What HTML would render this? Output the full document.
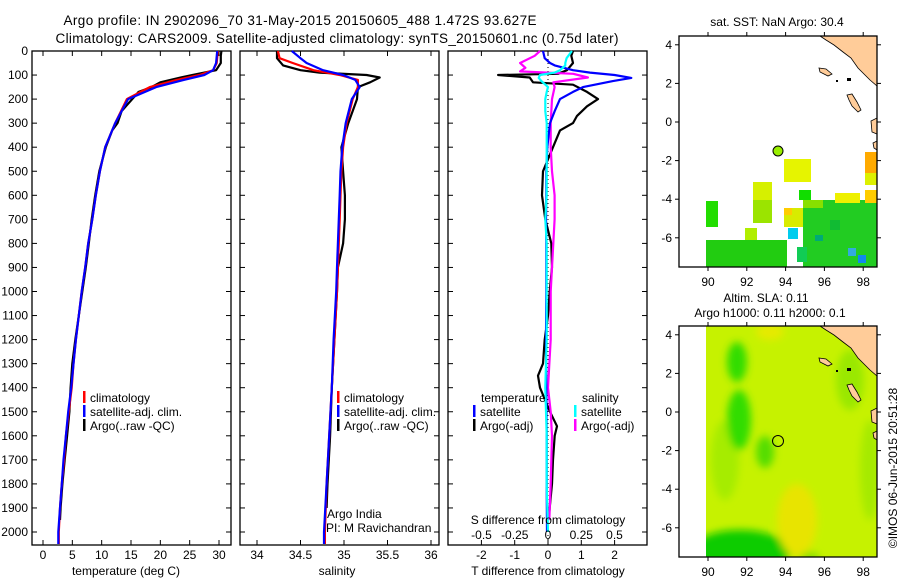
<!DOCTYPE html>
<html><head><meta charset="utf-8">
<style>
html,body{margin:0;padding:0;background:#fff;}
svg{display:block;font-family:"Liberation Sans",sans-serif;}
text{fill:#000;}
</style></head>
<body>
<svg id="fig" width="900" height="580" viewBox="0 0 900 580" xmlns="http://www.w3.org/2000/svg">
<defs>
<filter id="blur" x="-50%" y="-50%" width="200%" height="200%"><feGaussianBlur stdDeviation="4"/></filter>
<clipPath id="clipB"><rect x="706" y="326" width="171" height="231"/></clipPath>
</defs>
<text x="300" y="25" font-size="13.5" text-anchor="middle" textLength="473">Argo profile: IN 2902096_70 31-May-2015 20150605_488 1.472S 93.627E</text>
<text x="337" y="43" font-size="13.5" text-anchor="middle" textLength="563">Climatology: CARS2009. Satellite-adjusted climatology: synTS_20150601.nc (0.75d later)</text>
<g id="g1"></g>
<g id="g2"></g>
<g id="g3"></g>
<g id="m1"></g>
<g id="m2"></g>
<text transform="translate(897,468) rotate(-90)" font-size="12" text-anchor="middle">©IMOS 06-Jun-2015 20:51:28</text>
</svg>
<script>
// ---- data ----
const tDepth = [0,50,80,100,120,150,200,300,400,500,600,700,800,900,1000,1100,1200,1300,1400,1500,1600,1700,1800,1900,2000,2050];
const tClim  = [29.8,29.6,29,26.7,22.8,18.2,14.3,12.3,10.6,9.7,9.0,8.4,7.7,7.2,6.6,6.1,5.6,5.2,4.9,4.4,3.9,3.6,3.2,2.9,2.7,2.7];
const tSat   = [29.7,29.5,29,27.5,24,19.3,14.5,12.3,10.6,9.7,9.0,8.4,7.7,7.2,6.6,6.1,5.6,5.2,4.8,4.3,3.9,3.5,3.2,2.9,2.6,2.6];
const aDepth = [0,20,50,80,100,110,130,150,170,200,250,300,330,400,500,600,700,800,900,1000,1100,1200,1300,1400,1500,1600,1700,1800,1900,1950];
const tArgo  = [30.4,30.3,30.3,29.5,25.5,23.5,20,18.5,16.3,15.2,13.4,12.7,11.8,10.7,9.6,8.9,8.3,7.8,7.3,6.7,6.1,5.5,5.0,4.7,4.5,4.1,3.7,3.3,3.0,2.9];
const sDepth = [0,30,50,80,100,120,150,200,300,400,500,600,700,800,900,1000,1200,1400,1600,1800,2000,2050];
const sClim  = [34.24,34.26,34.41,34.65,34.95,35.16,35.16,35.1,35.03,34.99,34.97,34.96,34.95,34.94,34.93,34.92,34.89,34.86,34.83,34.8,34.78,34.78];
const sSat   = [34.4,34.5,34.57,34.76,34.99,35.13,35.18,35.09,35.02,34.98,34.96,34.95,34.94,34.93,34.92,34.91,34.88,34.86,34.83,34.8,34.77,34.77];
const sArgoDepth = [0,30,60,80,90,100,110,130,150,200,300,400,500,600,700,800,900,1000,1200,1400,1600,1800,1900];
const sArgo  = [34.23,34.23,34.3,34.5,34.72,35.26,35.41,35.3,35.16,35.15,35.05,34.97,34.99,35.01,35.01,34.99,34.93,34.92,34.89,34.86,34.84,34.81,34.8];
const dDepth = [0,20,50,80,95,100,110,130,140,170,200,230,270,300,330,400,500,600,700,800,900,1000,1100,1200,1300,1350,1400,1500,1560,1600,1700,1800,1900,1950];
const dTArgo = [0.75,0.7,0.75,0.57,0.3,-1.5,-0.55,-0.45,0.75,1.17,1.5,1.17,0.87,0.75,0.36,0.15,-0.15,-0.18,-0.08,0.1,0.12,0.05,0,-0.1,-0.15,-0.3,-0.24,0.06,0.27,0.2,0.15,0.12,0.05,0.02];
const dsDepth = [0,30,50,60,80,90,100,112,125,150,170,200,250,300,400,500,600,700,800,1000,1200,1400,1600,1800,2000];
const dTSat  = [-0.15,-0.1,0.06,0.2,0.75,1.26,2.0,2.5,1.95,1.05,0.75,0.36,0.2,0.06,-0.02,-0.05,-0.05,-0.06,-0.05,-0.05,-0.06,-0.05,-0.04,-0.04,-0.03];
const dSSat  = [0.18,0.14,0.13,0.13,0.09,0.05,-0.06,-0.07,-0.05,0,-0.01,-0.02,-0.02,-0.01,-0.01,-0.01,-0.01,-0.02,-0.01,-0.01,-0.01,-0.02,-0.01,-0.01,0];
const dmDepth = [0,20,50,70,85,95,110,130,150,200,300,400,500,600,700,800,1000,1200,1400,1500,1600,1800,1950];
const dSArgo = [-0.06,-0.1,-0.21,-0.17,-0.21,0.19,0.3,0.04,0.05,0.03,0.02,0.02,0.03,0.05,0.05,0.04,0.02,0.02,0.0,0.02,0.03,0.02,0.01];
const depthTicks = [0,100,200,300,400,500,600,700,800,900,1000,1100,1200,1300,1400,1500,1600,1700,1800,1900,2000];
const tempTicks = [0,5,10,15,20,25,30];
const salTicks = [34,34.5,35,35.5,36];
const dTTicks = [-2,-1,0,1,2];
const dSTicks = [-0.5,-0.25,0,0.25,0.5];
const lonTicks = [90,92,94,96,98];
const latTicks = [4,2,0,-2,-4,-6];

const NS='http://www.w3.org/2000/svg';
function mk(tag,attrs,parent,txt){const e=document.createElementNS(NS,tag);for(const k in attrs)e.setAttribute(k,attrs[k]);if(txt!==undefined)e.textContent=txt;parent.appendChild(e);return e;}
const yD = d => 51 + d*0.2405;
const xT = t => 43 + t*5.867;
const xS = s => 257 + (s-34)*87;
const xDT = v => 548 + v*33.3;
const xDS = v => 548 + v*133;
const TOP=51, BOT=545;

function frame(g,x0,x1){
  const r=mk('rect',{x:x0,y:TOP,width:x1-x0,height:BOT-TOP,fill:'none',stroke:'#000','stroke-width':1.3},g);
  
  
  depthTicks.forEach(d=>{
    mk('line',{x1:x0,x2:x0+5,y1:yD(d),y2:yD(d),stroke:'#000'},g);
    mk('line',{x1:x1,x2:x1-5,y1:yD(d),y2:yD(d),stroke:'#000'},g);
  });
}
function xticks(g,vals,fx,labels,ly){
  vals.forEach((v,i)=>{
    const x=fx(v);
    mk('line',{x1:x,x2:x,y1:TOP,y2:TOP+5,stroke:'#000'},g);
    mk('line',{x1:x,x2:x,y1:BOT,y2:BOT-5,stroke:'#000'},g);
    const t=mk('text',{x:x,y:ly,'font-size':12,'text-anchor':'middle'},g,labels?labels[i]:String(v));
    
    
  });
}
function line(g,xs,ds,fx,color,name){
  let p='';xs.forEach((v,i)=>{p+=(i?'L':'M')+fx(v).toFixed(1)+','+yD(ds[i]).toFixed(1);});
  const e=mk('path',{d:p,fill:'none',stroke:color,'stroke-width':2.2,'stroke-linejoin':'round'},g);
  
  
}
function legend(g,x,y,color,label){
  mk('rect',{x:x-1,y:y-7,width:2.5,height:12,fill:color},g);
  const t=mk('text',{x:x+6,y:y+4,'font-size':12},g,label);
  
  
}

// Panel 1
const g1=document.getElementById('g1');
frame(g1,32,231);
depthTicks.forEach(d=>{
  const t=mk('text',{x:28,y:yD(d)+4,'font-size':12,'text-anchor':'end'},g1,String(d));
  
  
});
xticks(g1,tempTicks,xT,null,559);
const ttl1=mk('text',{x:126,y:575,'font-size':12,'text-anchor':'middle'},g1,'temperature (deg C)');


line(g1,tArgo,aDepth,xT,'#000','temp-argo-line');
line(g1,tClim,tDepth,xT,'#f00','temp-climatology-line');
line(g1,tSat,tDepth,xT,'#00f','temp-satellite-line');
legend(g1,84,398,'#f00','climatology');
legend(g1,84,412,'#00f','satellite-adj. clim.');
legend(g1,84,426,'#000','Argo(..raw -QC)');

// Panel 2
const g2=document.getElementById('g2');
frame(g2,240,439);
xticks(g2,salTicks,xS,['34','34.5','35','35.5','36'],559);
const ttl2=mk('text',{x:337,y:575,'font-size':12,'text-anchor':'middle'},g2,'salinity');


line(g2,sArgo,sArgoDepth,xS,'#000','sal-argo-line');
line(g2,sClim,sDepth,xS,'#f00','sal-climatology-line');
line(g2,sSat,sDepth,xS,'#00f','sal-satellite-line');
legend(g2,338,398,'#f00','climatology');
legend(g2,338,412,'#00f','satellite-adj. clim.');
legend(g2,338,426,'#000','Argo(..raw -QC)');
const ai=mk('text',{x:327,y:518,'font-size':12},g2,'Argo India');


const pi=mk('text',{x:326,y:532,'font-size':12},g2,'PI: M Ravichandran');



// Panel 3
const g3=document.getElementById('g3');
frame(g3,448,647);
xticks(g3,dTTicks,xDT,['-2','-1','0','1','2'],559);
mk('line',{x1:548,x2:548,y1:TOP,y2:BOT,stroke:'#000','stroke-dasharray':'1,3'},g3);
const ttl3=mk('text',{x:548,y:575,'font-size':12,'text-anchor':'middle'},g3,'T difference from climatology');


line(g3,dTArgo,dDepth,xDT,'#000','t-diff-argo-line');
line(g3,dSArgo,dmDepth,xDS,'#f0f','s-diff-argo-line');
line(g3,dTSat,dsDepth,xDT,'#00f','t-diff-satellite-line');
line(g3,dSSat,dsDepth,xDS,'#0ff','s-diff-satellite-line');
const st=mk('text',{x:548,y:524,'font-size':12,'text-anchor':'middle'},g3,'S difference from climatology');


dSTicks.forEach(v=>{
  const t=mk('text',{x:xDS(v),y:539,'font-size':12,'text-anchor':'middle'},g3,String(v));
  
  
});
let lt=mk('text',{x:481,y:402,'font-size':12},g3,'temperature');


lt=mk('text',{x:582,y:402,'font-size':12},g3,'salinity');


legend(g3,474,412,'#00f','satellite');
legend(g3,474,426,'#000','Argo(-adj)');
legend(g3,575,412,'#0ff','satellite');
legend(g3,575,426,'#f0f','Argo(-adj)');

// Maps
const lonX = lon => 708 + (lon-90)*19.4;
function mapAxes(g,y0){
  const latY = lat => y0+86 - lat*19.3;
  const r=mk('rect',{x:679,y:y0,width:198,height:231,fill:'none',stroke:'#000','stroke-width':1.3},g);
  
  
  lonTicks.forEach(l=>{
    const x=lonX(l);
    mk('line',{x1:x,x2:x,y1:y0,y2:y0-4,stroke:'#000'},g);
    mk('line',{x1:x,x2:x,y1:y0+231,y2:y0+235,stroke:'#000'},g);
    const t=mk('text',{x:x,y:y0+250,'font-size':12,'text-anchor':'middle'},g,String(l));
    
    
  });
  latTicks.forEach(l=>{
    const y=latY(l);
    mk('line',{x1:679,x2:675,y1:y,y2:y,stroke:'#000'},g);
    mk('line',{x1:877,x2:881,y1:y,y2:y,stroke:'#000'},g);
    const t=mk('text',{x:672,y:y+4,'font-size':12,'text-anchor':'end'},g,String(l));
    
    
  });
}
function land(g,dy){
  const p=mk('path',{d:`M820,${36+dy} L877,${36+dy} L877,${86+dy} L870,${80+dy} L866,${76+dy} L858,${68+dy} L851,${58+dy} L843,${52+dy} L834,${45+dy} L826,${40+dy} Z`,fill:'#ffcc99',stroke:'#000','stroke-width':0.8},g);
  
  
  mk('path',{d:`M819,${68+dy} L826,${69+dy} L832,${74+dy} L828,${76+dy} L820,${72+dy} Z`,fill:'#ffcc99',stroke:'#000','stroke-width':0.8},g);
  mk('path',{d:`M847,${95+dy} L852,${94+dy} L857,${102+dy} L861,${110+dy} L858,${112+dy} L852,${106+dy} L849,${100+dy} Z`,fill:'#ffcc99',stroke:'#000','stroke-width':0.8},g);
  mk('path',{d:`M871,${121+dy} L877,${118+dy} L877,${134+dy} L872,${132+dy} Z`,fill:'#ffcc99',stroke:'#000','stroke-width':0.8},g);
  mk('path',{d:`M873,${143+dy} L877,${141+dy} L877,${150+dy} L874,${148+dy} Z`,fill:'#ffcc99',stroke:'#000','stroke-width':0.8},g);
  mk('rect',{x:847,y:78+dy,width:4,height:3,fill:'#000'},g);
  mk('rect',{x:836,y:80+dy,width:2,height:2,fill:'#000'},g);
}
const m1=document.getElementById('m1');
let mt=mk('text',{x:777,y:26,'font-size':12,'text-anchor':'middle'},m1,'sat. SST: NaN Argo: 30.4');


const sstBlocks=[
 [784,159,27,23,'#e6f400'],[753,182,19,18,'#d6f000'],[753,200,19,23,'#9be400'],[706,201,12,26,'#22dd00'],
 [745,228,12,15,'#b0ee00'],[706,240,81,27,'#22cc11'],[784,208,23,19,'#d8ec00'],[784,208,8,7,'#ffcc00'],
 [788,228,10,11,'#00ccee'],[799,190,12,10,'#11dd00'],[803,200,74,67,'#22cc22'],[835,193,25,10,'#eef000'],
 [865,152,12,21,'#ffaa00'],[865,173,12,12,'#ddf000'],[865,190,12,13,'#ffcc00'],[803,200,20,8,'#88e000'],
 [815,235,8,6,'#00aa77'],[848,248,8,8,'#33aadd'],[858,255,8,8,'#1188ee'],[830,220,10,10,'#11bb33'],[797,247,10,15,'#11cc55']];
sstBlocks.forEach(b=>{
  const r=mk('rect',{x:b[0],y:b[1],width:b[2],height:b[3],fill:b[4]},m1);
  
  
});
land(m1,0);
mapAxes(m1,36);
const d1=mk('circle',{cx:778,cy:151,r:5,fill:'#99ee00',stroke:'#000','stroke-width':1},m1);



const m2=document.getElementById('m2');
mt=mk('text',{x:766,y:302,'font-size':12,'text-anchor':'middle'},m2,'Altim. SLA: 0.11');


mt=mk('text',{x:770,y:317,'font-size':12,'text-anchor':'middle'},m2,'Argo h1000: 0.11 h2000: 0.1');


const cg=mk('g',{'clip-path':'url(#clipB)'},m2);
mk('rect',{x:706,y:326,width:171,height:231,fill:'#c6f200'},cg);
const bl=mk('g',{filter:'url(#blur)'},cg);
[[725,460,14,40,'#a6ec00'],[870,470,10,50,'#a6ea00'],[850,380,14,30,'#9ae800'],
 [737,362,10,20,'#33dd00'],[739,420,12,30,'#33dd00'],[765,452,9,16,'#55dd00'],[740,552,50,22,'#11cc00'],
 [797,520,20,36,'#e8e400'],[770,332,14,8,'#e6ea00'],[810,560,10,8,'#88e000']].forEach(e=>{
  mk('ellipse',{cx:e[0],cy:e[1],rx:e[2],ry:e[3],fill:e[4]},bl);
});
land(m2,290);
mapAxes(m2,326);
const d2=mk('circle',{cx:778,cy:441,r:5.5,fill:'none',stroke:'#000','stroke-width':1},m2);


</script>
</body></html>
